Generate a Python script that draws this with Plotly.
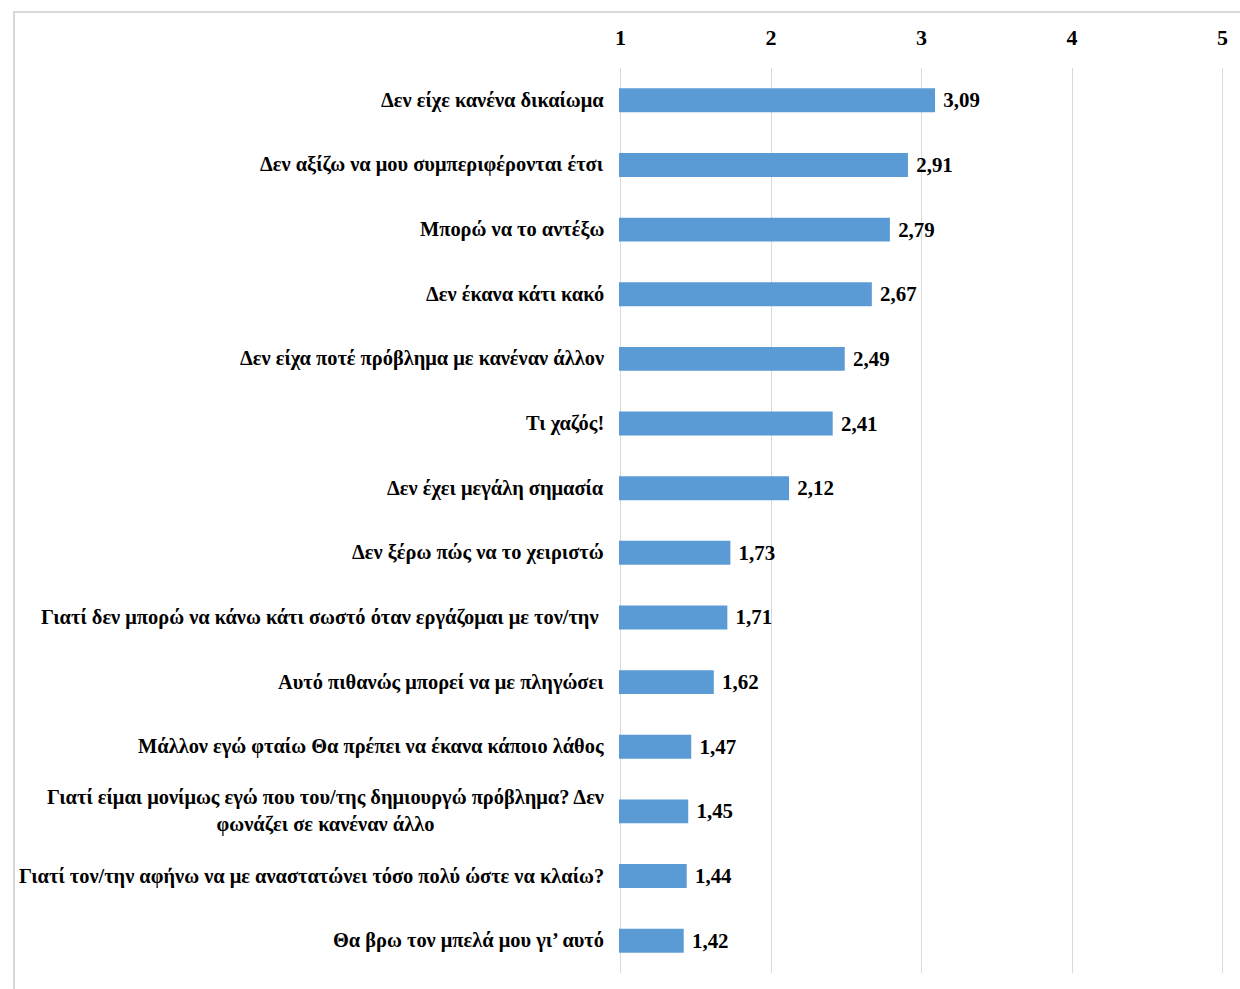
import plotly.graph_objects as go

# Mean agreement scores (scale 1-5) for each statement
statements = [
    "Δεν είχε κανένα δικαίωμα",
    "Δεν αξίζω να μου συμπεριφέρονται έτσι",
    "Μπορώ να το αντέξω",
    "Δεν έκανα κάτι κακό",
    "Δεν είχα ποτέ πρόβλημα με κανέναν άλλον",
    "Τι χαζός!",
    "Δεν έχει μεγάλη σημασία",
    "Δεν ξέρω πώς να το χειριστώ",
    "Γιατί δεν μπορώ να κάνω κάτι σωστό όταν εργάζομαι με τον/την ",
    "Αυτό πιθανώς μπορεί να με πληγώσει",
    "Μάλλον εγώ φταίω Θα πρέπει να έκανα κάποιο λάθος",
    "Γιατί είμαι μονίμως εγώ που του/της δημιουργώ πρόβλημα? Δεν<br>φωνάζει σε κανέναν άλλο",
    "Γιατί τον/την αφήνω να με αναστατώνει τόσο πολύ ώστε να κλαίω?",
    "Θα βρω τον μπελά μου γι’ αυτό",
]
scores = [3.09, 2.91, 2.79, 2.67, 2.49, 2.41, 2.12, 1.73, 1.71, 1.62, 1.47, 1.45, 1.44, 1.42]
tick_values = [1, 2, 3, 4, 5]

FONT = "'Liberation Serif', 'Times New Roman', Times, serif"
BAR_COLOR = "#5B9BD5"
GRID = "#D9D9D9"

cat_ids = list(range(len(statements)))
value_text = [f"{v:.2f}".replace(".", ",") for v in scores]

fig = go.Figure(
    go.Bar(
        x=scores,
        y=cat_ids,
        orientation="h",
        marker=dict(color=BAR_COLOR, line=dict(width=0)),
        width=0.37,
        text=value_text,
        texttemplate="<b>\u00a0%{text}</b>",
        textposition="outside",
        textfont=dict(family=FONT, size=21, color="#000000"),
        cliponaxis=False,
        hoverinfo="skip",
    )
)

# Statement labels, right-aligned to the left of the plot area
for i, label in enumerate(statements):
    fig.add_annotation(
        x=0, xref="paper", y=i, yref="y",
        text=f"<b>{label}</b>",
        showarrow=False,
        xanchor="right", yanchor="middle",
        xshift=-13,
        align="center",
        font=dict(family=FONT, size=20.4, color="#000000"),
    )

# Light frame around the chart
fig.add_shape(
    type="rect", xref="paper", yref="paper",
    x0=-1.0, x1=1.1, y0=-0.2, y1=1.0619,
    line=dict(color=GRID, width=2), fillcolor="rgba(0,0,0,0)",
    layer="below",
)

fig.update_layout(
    width=1240, height=989,
    margin=dict(l=619, r=12, t=68, b=16),
    paper_bgcolor="white", plot_bgcolor="white",
    showlegend=False,
    font=dict(family=FONT, color="#000000"),
    xaxis=dict(
        range=[0.99, 5.01],
        side="top",
        tickvals=tick_values,
        ticktext=[f"<b>{t}</b>" for t in tick_values],
        tickfont=dict(family=FONT, size=22, color="#000000"),
        showgrid=True, gridcolor=GRID, gridwidth=1,
        zeroline=False, showline=False, ticks="",
        ticklabelstandoff=18,
        fixedrange=True,
    ),
    yaxis=dict(
        range=[len(statements) - 0.5, -0.5],
        showticklabels=False,
        showgrid=False, zeroline=False, showline=False, ticks="",
        fixedrange=True,
    ),
)

fig.write_html("out.html")
